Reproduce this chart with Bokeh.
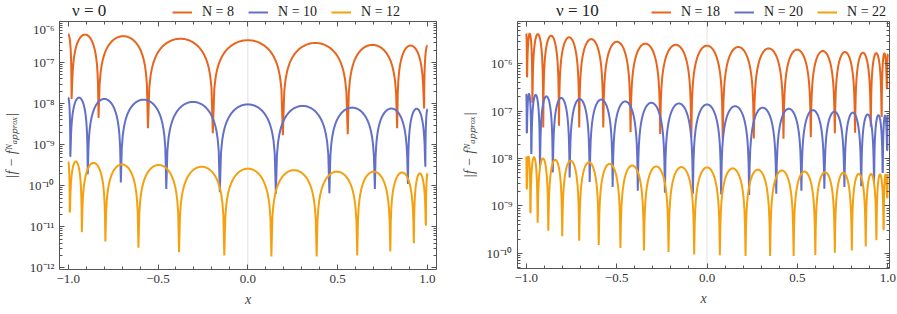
import numpy as np
from bokeh.plotting import figure
from bokeh.models import (Range1d, LinearAxis, LogAxis, Legend, LegendItem, Span,
                          CustomJSTickFormatter, FixedTicker, LogTicker)
from bokeh.layouts import row, column
from bokeh.embed import file_html
from bokeh.resources import INLINE

# ---------------- data ----------------
# Each series: x of the zeros (dips), floor value reached at each dip,
# and peak height of every arch (left end, interior arches, right end).

# nu = 0
zeros_8 = [-0.981, -0.831, -0.556, -0.195, 0.195, 0.556, 0.831, 0.981]
floors_8 = [1.3e-8, 4.5e-9, 2.5e-9, 1.9e-9, 1.7e-9, 1.8e-9, 2.5e-9, 7.6e-9]
peaks_8 = [4.9e-7, 4.8e-7, 4.4e-7, 3.8e-7, 3.5e-7, 3.0e-7, 2.7e-7, 2.6e-7, 2.6e-7]

zeros_10 = [-0.988, -0.891, -0.707, -0.454, -0.156, 0.156, 0.454, 0.707, 0.891, 0.988]
floors_10 = [5.2e-10, 1.9e-10, 1.2e-10, 8.3e-11, 7.0e-11, 6.3e-11, 6.6e-11, 8.3e-11, 1.1e-10, 3.0e-10]
peaks_10 = [1.4e-8, 1.4e-8, 1.3e-8, 1.25e-8, 1.1e-8, 9.6e-9, 8.8e-9, 8.0e-9, 7.6e-9, 7.5e-9, 7.3e-9]

zeros_12 = [-0.991, -0.924, -0.793, -0.609, -0.383, -0.131, 0.131, 0.383, 0.609, 0.793, 0.924, 0.991]
floors_12 = [2.3e-11, 7.4e-12, 4.4e-12, 3.1e-12, 2.4e-12, 2.0e-12, 1.9e-12, 1.9e-12, 2.0e-12, 2.5e-12, 4.0e-12, 1.1e-11]
peaks_12 = [3.8e-10, 3.9e-10, 3.6e-10, 3.3e-10, 3.2e-10, 2.9e-10, 2.6e-10, 2.4e-10, 2.2e-10, 2.2e-10, 2.1e-10, 2.0e-10, 2.0e-10]

# nu = 10
zeros_18 = [-0.996, -0.966, -0.906, -0.819, -0.707, -0.574, -0.423, -0.259, -0.087,
            0.087, 0.259, 0.423, 0.574, 0.707, 0.819, 0.906, 0.966, 0.996]
floors_18 = [5.3e-7, 1.5e-7, 4.5e-8, 4.9e-8, 4.5e-8, 4.5e-8, 3.6e-8, 3.3e-8, 2.8e-8,
             2.6e-8, 2.65e-8, 2.6e-8, 2.8e-8, 3.4e-8, 3.5e-8, 4.7e-8, 7.5e-8, 3.0e-7]
peaks_18 = [4.3e-6, 4.3e-6, 4.2e-6, 3.9e-6, 3.6e-6, 3.3e-6, 2.9e-6, 2.65e-6, 2.5e-6, 2.4e-6,
            2.25e-6, 2.1e-6, 1.98e-6, 1.85e-6, 1.76e-6, 1.7e-6, 1.67e-6, 1.65e-6, 1.6e-6]

zeros_20 = [-0.997, -0.972, -0.924, -0.853, -0.760, -0.649, -0.522, -0.383, -0.233, -0.078,
            0.078, 0.233, 0.383, 0.522, 0.649, 0.760, 0.853, 0.924, 0.972, 0.997]
floors_20 = [3.5e-8, 1.25e-8, 7.0e-9, 5.1e-9, 4.0e-9, 3.2e-9, 2.5e-9, 2.1e-9, 1.9e-9, 1.8e-9,
             1.75e-9, 1.7e-9, 1.8e-9, 2.1e-9, 2.3e-9, 2.5e-9, 2.6e-9, 3.0e-9, 5.0e-9, 1.5e-8]
peaks_20 = [2.3e-7, 2.3e-7, 2.2e-7, 2.05e-7, 1.9e-7, 1.8e-7, 1.75e-7, 1.6e-7, 1.5e-7, 1.45e-7, 1.38e-7,
            1.27e-7, 1.18e-7, 1.12e-7, 1.05e-7, 9.7e-8, 9.3e-8, 8.5e-8, 8.2e-8, 8.0e-8, 7.9e-8]

zeros_22 = [-0.9975, -0.977, -0.937, -0.878, -0.801, -0.707, -0.599, -0.479, -0.349, -0.213, -0.071,
            0.071, 0.213, 0.349, 0.479, 0.599, 0.707, 0.801, 0.878, 0.937, 0.977, 0.9975]
floors_22 = [2.3e-9, 7.3e-10, 4.4e-10, 3.0e-10, 2.3e-10, 1.85e-10, 1.5e-10, 1.3e-10, 1.15e-10, 1.07e-10, 9.5e-11,
             9.1e-11, 8.8e-11, 8.8e-11, 8.8e-11, 9.2e-11, 1.03e-10, 1.15e-10, 1.4e-10, 1.9e-10, 3.2e-10, 1.5e-9]
peaks_22 = [1.1e-8, 1.1e-8, 1.06e-8, 1.0e-8, 9.4e-9, 9.0e-9, 8.3e-9, 7.7e-9, 7.1e-9, 6.8e-9, 6.6e-9, 6.5e-9,
            6.2e-9, 5.8e-9, 5.6e-9, 5.3e-9, 5.15e-9, 5.0e-9, 4.75e-9, 4.7e-9, 4.6e-9, 4.6e-9, 4.7e-9]

panel_titles = ["ν = 0", "ν = 10"]
labels_left = ["N = 8", "N = 10", "N = 12"]
labels_right = ["N = 18", "N = 20", "N = 22"]
x_ticks = [-1.0, -0.5, 0.0, 0.5, 1.0]

COLORS = ["#E8651D", "#6370C9", "#F5A10F"]
FONT = "Liberation Serif"
FRAME = "#555555"
HEAD_H = 21


def arches(zeros, floors, peaks, n=48):
    """Join the read-off key values (end values, arch peaks, dip floors) by arches."""
    edges = [-1.0] + list(zeros) + [1.0]
    xs, ys = [], []
    last = len(edges) - 2
    for i in range(len(edges) - 1):
        a, b = edges[i], edges[i + 1]
        t = np.linspace(0, 1, n + 1)
        if i == 0:
            shape = np.cos(np.pi / 2 * t); t, shape = t[:-1], shape[:-1]
            fl = np.full_like(t, floors[0])
        elif i == last:
            shape = np.sin(np.pi / 2 * t); t, shape = t[1:], shape[1:]
            fl = np.full_like(t, floors[-1])
        else:
            shape = np.sin(np.pi * t); t, shape = t[1:-1], shape[1:-1]
            fl = np.where(t < 0.5, floors[i - 1], floors[i])
        y = np.maximum(peaks[i] * shape, fl)
        xs.extend(list(a + (b - a) * t)); ys.extend(list(y))
        if i < last:
            xs.append(b); ys.append(floors[i])
    return xs, ys


sup = CustomJSTickFormatter(code="""
const m = {'-':'\u207b','0':'\u2070','1':'\u00b9','2':'\u00b2','3':'\u00b3','4':'\u2074',
           '5':'\u2075','6':'\u2076','7':'\u2077','8':'\u2078','9':'\u2079'};
const e = Math.round(Math.log10(tick));
return '10' + String(e).split('').map(c => m[c]).join('');
""")
xfmt = CustomJSTickFormatter(code="""
return (tick < -1e-9 ? '\u2212' : '') + Math.abs(tick).toFixed(1);
""")
blank = CustomJSTickFormatter(code="return '';")


def style_axis(ax, labels=True):
    ax.axis_line_color = FRAME
    ax.major_tick_line_color = FRAME
    ax.minor_tick_line_color = FRAME
    ax.major_tick_in = 5
    ax.major_tick_out = 0
    ax.minor_tick_in = 3
    ax.minor_tick_out = 0
    if labels:
        ax.major_label_text_font = FONT
        ax.major_label_text_font_size = "13px"
        ax.major_label_text_color = "#333333"
        ax.axis_label_text_font = FONT
        ax.axis_label_text_font_size = "14px"
        ax.axis_label_text_font_style = "italic"
        ax.axis_label_text_color = "#444444"
    else:
        ax.formatter = blank
        ax.major_label_standoff = 0


def header(width, title, labels, title_x, legend_x):
    h = figure(width=width, height=HEAD_H, x_range=Range1d(0, 1), y_range=Range1d(0, 1),
               output_backend="svg", toolbar_location=None, min_border=0)
    h.axis.visible = False
    h.grid.visible = False
    h.outline_line_color = None
    # panel heading: a one-entry legend whose proxy line is invisible
    head = h.line(x=[2, 3], y=[2, 3], line_alpha=0)
    tleg = Legend(items=[LegendItem(label=title, renderers=[head])], orientation="horizontal",
                  location=(title_x, 0), border_line_color=None, background_fill_alpha=0,
                  padding=0, margin=0, glyph_width=1, glyph_height=12, label_standoff=0,
                  label_text_font=FONT, label_text_font_size="17px", label_text_color="#222222")
    h.add_layout(tleg, "center")
    items = []
    for c, lab in zip(COLORS, labels):
        # legend proxies only: their data lie outside the header's ranges
        r = h.line(x=[2, 3], y=[2, 3], line_color=c, line_width=2)
        items.append(LegendItem(label=lab, renderers=[r]))
    leg = Legend(items=items, orientation="horizontal", location=(legend_x, 1),
                 border_line_color=None, background_fill_alpha=0, padding=0, margin=0,
                 label_text_font=FONT, label_text_font_size="14px", label_text_color="#222222",
                 glyph_width=20, glyph_height=14, label_standoff=10, spacing=14)
    h.add_layout(leg, "center")
    return h


def panel(series, xr, yr, frame_w, frame_h, b_left, b_right):
    p = figure(x_axis_type="linear", y_axis_type="log", x_range=Range1d(*xr), y_range=Range1d(*yr),
               frame_width=frame_w, frame_height=frame_h, output_backend="svg", toolbar_location=None,
               min_border_left=b_left, min_border_right=b_right, min_border_top=0, min_border_bottom=0)
    p.outline_line_color = None
    p.xgrid.visible = False
    p.ygrid.visible = False

    p.add_layout(Span(location=0, dimension="height", line_color="#e3e3e3", line_width=1, level="underlay"))

    for (z, f, pk), c in zip(series, COLORS):
        xs, ys = arches(z, f, pk)
        p.line(xs, ys, line_color=c, line_width=2)

    minor = [round(-1 + 0.1 * k, 1) for k in range(21)]
    xa = p.xaxis[0]
    xa.ticker = FixedTicker(ticks=x_ticks, minor_ticks=minor)
    xa.formatter = xfmt
    xa.axis_label = "x"
    style_axis(xa)
    xa.axis_label_standoff = 6
    ya = p.yaxis[0]
    ya.ticker = LogTicker(num_minor_ticks=10)
    ya.formatter = sup
    ya.axis_label = "|f \u2212 f\u1d3a\u2090\u209a\u209a\u1d63\u2092\u2093|"
    style_axis(ya)
    ya.axis_label_standoff = 7

    top = LinearAxis(ticker=FixedTicker(ticks=x_ticks, minor_ticks=minor))
    style_axis(top, labels=False)
    p.add_layout(top, "above")
    right = LogAxis(ticker=LogTicker(num_minor_ticks=10))
    style_axis(right, labels=False)
    p.add_layout(right, "right")
    return p


left = panel([(zeros_8, floors_8, peaks_8), (zeros_10, floors_10, peaks_10), (zeros_12, floors_12, peaks_12)],
             (-1.0484, 1.0501), (10 ** -12.04, 1e-6), 377, 248, 49, 13)
right = panel([(zeros_18, floors_18, peaks_18), (zeros_20, floors_20, peaks_20), (zeros_22, floors_22, peaks_22)],
              (-1.0484, 1.0094), (10 ** -10.32, 10 ** -5.11), 372, 247, 68, 7)
head_l = header(439, panel_titles[0], labels_left, 12, 113)
head_r = header(447, panel_titles[1], labels_right, 38, 134)

layout = row(column(head_l, left, spacing=0), column(head_r, right, spacing=0), spacing=0)
open("out.html", "w").write(file_html(layout, INLINE))
